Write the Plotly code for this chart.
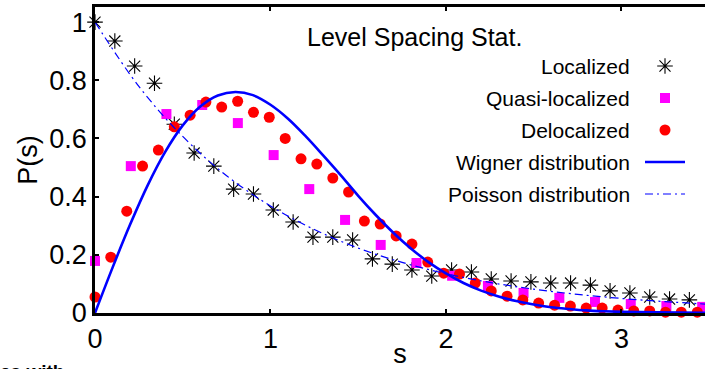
import plotly.graph_objects as go

# ---------------- data ----------------
loc_s = [0.000, 0.113, 0.226, 0.339, 0.452, 0.565, 0.677, 0.790, 0.903, 1.016,
         1.129, 1.242, 1.355, 1.468, 1.581, 1.694, 1.806, 1.919, 2.032, 2.145,
         2.258, 2.371, 2.484, 2.597, 2.710, 2.823, 2.935, 3.048, 3.161, 3.274, 3.387]
loc_p = [1.000, 0.935, 0.849, 0.790, 0.649, 0.550, 0.505, 0.426, 0.409, 0.354,
         0.313, 0.261, 0.261, 0.251, 0.186, 0.168, 0.148, 0.127, 0.148, 0.141,
         0.117, 0.110, 0.107, 0.103, 0.103, 0.096, 0.076, 0.069, 0.055, 0.048, 0.045]

quasi_s = [0.000, 0.204, 0.407, 0.611, 0.814, 1.018, 1.221, 1.425, 1.628, 1.832,
           2.035, 2.239, 2.442, 2.646, 2.849, 3.053, 3.256, 3.460]
quasi_p = [0.179, 0.505, 0.684, 0.715, 0.653, 0.543, 0.426, 0.320, 0.234, 0.172,
           0.128, 0.093, 0.069, 0.052, 0.038, 0.031, 0.024, 0.021]

deloc_s = [0.000, 0.090, 0.181, 0.271, 0.361, 0.452, 0.542, 0.632, 0.722, 0.813,
           0.903, 0.993, 1.084, 1.174, 1.264, 1.355, 1.445, 1.535, 1.625, 1.716,
           1.806, 1.896, 1.987, 2.077, 2.167, 2.258, 2.348, 2.438, 2.528, 2.619,
           2.709, 2.799, 2.890, 2.980, 3.070, 3.161, 3.251, 3.341, 3.432]
deloc_p = [0.055, 0.192, 0.350, 0.505, 0.560, 0.640, 0.680, 0.725, 0.708, 0.728,
           0.690, 0.673, 0.600, 0.530, 0.512, 0.464, 0.416, 0.316, 0.306, 0.265,
           0.237, 0.175, 0.137, 0.134, 0.103, 0.076, 0.058, 0.045, 0.034, 0.027,
           0.024, 0.017, 0.017, 0.010, 0.007, 0.007, 0.003, 0.003, 0.003]

wigner_s = [0.0, 0.1, 0.2, 0.3, 0.4, 0.5, 0.6, 0.7, 0.8, 0.9, 1.0, 1.1, 1.2, 1.3,
            1.4, 1.5, 1.6, 1.7, 1.8, 1.9, 2.0, 2.1, 2.2, 2.3, 2.4, 2.5, 2.6, 2.7,
            2.8, 2.9, 3.0, 3.2, 3.5]
wigner_p = [0.0, 0.156, 0.304, 0.439, 0.554, 0.645, 0.710, 0.748, 0.760, 0.749,
            0.716, 0.668, 0.608, 0.542, 0.474, 0.403, 0.337, 0.276, 0.222, 0.175,
            0.136, 0.103, 0.077, 0.057, 0.041, 0.029, 0.020, 0.014, 0.009, 0.006,
            0.004, 0.002, 0.0003]

poisson_s = [0.0, 0.25, 0.5, 0.75, 1.0, 1.25, 1.5, 1.75, 2.0, 2.25, 2.5, 2.75,
             3.0, 3.25, 3.5]
poisson_p = [1.000, 0.779, 0.607, 0.472, 0.368, 0.287, 0.223, 0.174, 0.135,
             0.105, 0.082, 0.064, 0.050, 0.039, 0.030]

x_ticks = [0, 1, 2, 3]
x_tick_labels = ["0", "1", "2", "3"]
y_ticks = [0, 0.2, 0.4, 0.6, 0.8, 1.0]
y_tick_labels = ["0", "0.2", "0.4", "0.6", "0.8", "1"]

legend_names = ["Localized", "Quasi-localized", "Delocalized",
                "Wigner distribution", "Poisson distribution"]
legend_title = "Level Spacing Stat."

# ---------------- styles ----------------
FONT = "Liberation Sans, Arial, Helvetica, sans-serif"
BLUE = "#0000ff"
MAGENTA = "#ff00ff"
RED = "#ff0000"
POISSON_DASH = "8px,4px,2px,4px"

W, H = 705, 369
ML, MR, MT, MB = 95, 0, 7, 56

fig = go.Figure()

fig.add_trace(go.Scatter(
    x=loc_s, y=loc_p, mode="markers", name=legend_names[0], cliponaxis=False,
    marker=dict(symbol="asterisk-open", size=13, color="black",
                line=dict(color="black", width=1.1))))
fig.add_trace(go.Scatter(
    x=quasi_s, y=quasi_p, mode="markers", name=legend_names[1], cliponaxis=False,
    marker=dict(symbol="square", size=10, color=MAGENTA, line=dict(width=0))))
fig.add_trace(go.Scatter(
    x=deloc_s, y=deloc_p, mode="markers", name=legend_names[2], cliponaxis=False,
    marker=dict(symbol="circle", size=11, color=RED, line=dict(width=0))))
fig.add_trace(go.Scatter(
    x=wigner_s, y=wigner_p, mode="lines", name=legend_names[3],
    line=dict(color=BLUE, width=2.6, shape="spline")))
fig.add_trace(go.Scatter(
    x=poisson_s, y=poisson_p, mode="lines", name=legend_names[4],
    line=dict(color=BLUE, width=1.2, dash=POISSON_DASH, shape="spline")))

# ----- legend keys, drawn on an overlay axis in pixel units -----
key_x = 665
key_rows = [66, 98, 130, 162, 194]
fig.add_trace(go.Scatter(x=[key_x], y=[key_rows[0]], xaxis="x3", yaxis="y3",
    mode="markers", showlegend=False, cliponaxis=False,
    marker=dict(symbol="asterisk-open", size=13, color="black",
                line=dict(color="black", width=1.1))))
fig.add_trace(go.Scatter(x=[key_x], y=[key_rows[1]], xaxis="x3", yaxis="y3",
    mode="markers", showlegend=False, cliponaxis=False,
    marker=dict(symbol="square", size=10, color=MAGENTA, line=dict(width=0))))
fig.add_trace(go.Scatter(x=[key_x], y=[key_rows[2]], xaxis="x3", yaxis="y3",
    mode="markers", showlegend=False, cliponaxis=False,
    marker=dict(symbol="circle", size=11, color=RED, line=dict(width=0))))
fig.add_trace(go.Scatter(x=[key_x - 20, key_x + 20], y=[key_rows[3]] * 2,
    xaxis="x3", yaxis="y3", mode="lines", showlegend=False,
    line=dict(color=BLUE, width=2.6)))
fig.add_trace(go.Scatter(x=[key_x - 20, key_x + 20], y=[key_rows[4]] * 2,
    xaxis="x3", yaxis="y3", mode="lines", showlegend=False,
    line=dict(color=BLUE, width=1.2, dash=POISSON_DASH)))

annotations = [dict(x=414, y=37, xref="x3", yref="y3", text=legend_title,
                    showarrow=False, xanchor="center", yanchor="middle",
                    font=dict(family=FONT, size=25, color="black"))]
for name, ry in zip(legend_names, key_rows):
    annotations.append(dict(x=632, y=ry, xref="x3", yref="y3", text=name,
                            showarrow=False, xanchor="right", yanchor="middle",
                            font=dict(family=FONT, size=21, color="black")))
# cut-off caption text from the page below
annotations.append(dict(x=-(ML + 2) / (W - ML - MR), y=-(371 - (H - MB)) / (H - MB - MT),
                        xref="paper", yref="paper", text="<b>es with</b>",
                        showarrow=False, xanchor="left", yanchor="middle",
                        font=dict(family=FONT, size=19, color="black")))

axis_common = dict(ticks="inside", ticklen=4, tickwidth=1.5, tickcolor="black",
                   showgrid=False, zeroline=False, linecolor="black",
                   tickfont=dict(family=FONT, size=27, color="black"),
                   showline=True, automargin=False)

fig.update_layout(
    width=W, height=H,
    margin=dict(l=ML, r=MR, t=MT, b=MB, autoexpand=False),
    paper_bgcolor="white", plot_bgcolor="white",
    showlegend=False,
    font=dict(family=FONT, color="black"),
    xaxis=dict(range=[0, 3.476], tickvals=x_ticks, ticktext=x_tick_labels,
               mirror="ticks", linewidth=2.6,
               title=dict(text="s", font=dict(family=FONT, size=27), standoff=0),
               **axis_common),
    yaxis=dict(range=[0, 1.052], tickvals=y_ticks, ticktext=y_tick_labels,
               mirror=False, linewidth=2.6,
               title=dict(text="P(s)", font=dict(family=FONT, size=27), standoff=4),
               **axis_common),
    yaxis2=dict(overlaying="y", side="right", range=[0, 1.052], tickvals=y_ticks,
                showticklabels=False, ticks="inside", ticklen=4, tickwidth=1.5,
                tickcolor="black", showline=False, showgrid=False, zeroline=False),
    xaxis3=dict(overlaying="x", range=[ML, W - MR], visible=False),
    yaxis3=dict(overlaying="y", range=[H - MB, MT], visible=False),
    annotations=annotations,
)

fig.write_html("out.html")
